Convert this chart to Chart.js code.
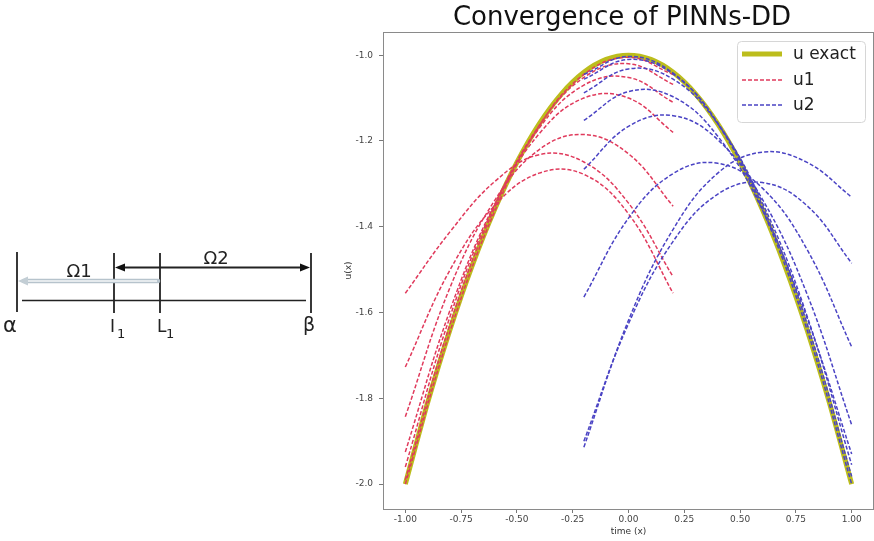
<!DOCTYPE html>
<html>
<head>
<meta charset="utf-8">
<script src="https://cdn.jsdelivr.net/npm/chart.js@4.4.0/dist/chart.umd.min.js"></script>
<style>
  html, body { margin: 0; padding: 0; background: #fff; }
  #wrap { position: relative; width: 874px; height: 541px; overflow: hidden; }
  #chart { position: absolute; left: 0; top: 0; }
  #diagram { position: absolute; left: 0; top: 0; }
  #title { position: absolute; top: 0; left: 422px; width: 400px; text-align: center;
           font: 26px "DejaVu Sans", sans-serif; line-height: 32px; color: #111; }
</style>
</head>
<body>
<div id="wrap">
  <canvas id="chart" width="874" height="541"></canvas>
  <div id="title">Convergence of PINNs-DD</div>
  <svg id="diagram" width="340" height="541" font-family="DejaVu Sans, sans-serif" fill="#222">
    <!-- domain sketch: alpha .. l1 .. L1 .. beta -->
    <g stroke="#222" stroke-width="1.8">
      <line x1="17" y1="252" x2="17" y2="312"/>
      <line x1="114" y1="253" x2="114" y2="313"/>
      <line x1="160" y1="253" x2="160" y2="313"/>
      <line x1="311" y1="253" x2="311" y2="313"/>
      <line x1="22" y1="300.5" x2="306" y2="300.5" stroke-width="1.5"/>
      <line x1="120" y1="267.5" x2="304" y2="267.5" stroke-width="2"/>
    </g>
    <polygon points="115,267.5 125,263.5 125,271.5" fill="#111"/>
    <polygon points="310,267.5 300,263.5 300,271.5" fill="#111"/>
    <line x1="24" y1="281" x2="158" y2="281" stroke="#b6c3cc" stroke-width="4.5" stroke-linecap="round"/>
    <line x1="24" y1="281" x2="157" y2="281" stroke="#f4f7f8" stroke-width="1.5"/>
    <polygon points="18,281 28,276.5 28,285.5" fill="#c3ced5"/>
    <text x="79" y="277" font-size="18" text-anchor="middle">Ω1</text>
    <text x="216" y="264" font-size="18" text-anchor="middle">Ω2</text>
    <text x="3" y="332" font-size="21">α</text>
    <text x="110" y="332" font-size="17">I</text>
    <text x="117" y="338" font-size="13">1</text>
    <text x="157" y="332" font-size="17">L</text>
    <text x="166" y="338" font-size="13">1</text>
    <text x="303" y="331" font-size="19">β</text>
  </svg>
</div>
<script>
// exact solution
const exactX = [-1, -0.9, -0.8, -0.7, -0.6, -0.5, -0.4, -0.3, -0.2, -0.1, 0, 0.1, 0.2, 0.3, 0.4, 0.5, 0.6, 0.7, 0.8, 0.9, 1];
const exactU = [-2, -1.81, -1.64, -1.49, -1.36, -1.25, -1.16, -1.09, -1.04, -1.01, -1.0, -1.01, -1.04, -1.09, -1.16, -1.25, -1.36, -1.49, -1.64, -1.81, -2];

// subdomain 1 iterations (u1)
const u1X = [-1, -0.8, -0.6, -0.4, -0.2, 0, 0.2];
const u1Runs = [
  [-1.555, -1.412, -1.295, -1.232, -1.249, -1.345, -1.517],
  [-1.727, -1.501, -1.351, -1.275, -1.278, -1.370, -1.555],
  [-1.843, -1.542, -1.339, -1.220, -1.185, -1.230, -1.352],
  [-1.925, -1.595, -1.348, -1.183, -1.100, -1.100, -1.180],
  [-1.960, -1.610, -1.350, -1.170, -1.070, -1.052, -1.110],
  [-1.990, -1.628, -1.356, -1.164, -1.052, -1.020, -1.068],
  [-2.000, -1.645, -1.365, -1.165, -1.045, -1.005, -1.045]
];

// subdomain 2 iterations (u2)
const u2X = [-0.2, 0, 0.2, 0.4, 0.6, 0.8, 1];
const u2Runs = [
  [-1.914, -1.618, -1.406, -1.275, -1.226, -1.250, -1.331],
  [-1.564, -1.380, -1.276, -1.252, -1.310, -1.453, -1.680],
  [-1.900, -1.626, -1.434, -1.324, -1.297, -1.351, -1.485],
  [-1.266, -1.166, -1.141, -1.197, -1.336, -1.557, -1.862],
  [-1.152, -1.085, -1.097, -1.189, -1.361, -1.613, -1.930],
  [-1.088, -1.032, -1.056, -1.160, -1.344, -1.608, -1.955],
  [-1.056, -1.010, -1.044, -1.158, -1.352, -1.626, -1.982],
  [-1.045, -1.003, -1.042, -1.160, -1.360, -1.640, -2.000]
];

const xTicks = [-1, -0.75, -0.5, -0.25, 0, 0.25, 0.5, 0.75, 1];
const xTickLabels = ['-1.00', '-0.75', '-0.50', '-0.25', '0.00', '0.25', '0.50', '0.75', '1.00'];
const yTicks = [-2, -1.8, -1.6, -1.4, -1.2, -1.0];
const yTickLabels = ['-2.0', '-1.8', '-1.6', '-1.4', '-1.2', '-1.0'];

const legendLabels = ['u exact', 'u1', 'u2'];

const exactColor = '#bcbd1c';
const u1Color = '#e03a5c';
const u2Color = '#4a43c4';

const pts = (xs, ys) => xs.map((x, i) => ({ x: x, y: ys[i] }));

const datasets = [];
datasets.push({
  label: legendLabels[0], data: pts(exactX, exactU),
  borderColor: exactColor, borderWidth: 5, tension: 0.3, order: 2
});
u1Runs.forEach(run => datasets.push({
  label: legendLabels[1], data: pts(u1X, run),
  borderColor: u1Color, borderWidth: 1.5, borderDash: [4, 2], tension: 0.4, order: 1
}));
u2Runs.forEach(run => datasets.push({
  label: legendLabels[2], data: pts(u2X, run),
  borderColor: u2Color, borderWidth: 1.5, borderDash: [4, 2], tension: 0.4, order: 0
}));

// box around the axes and legend inside the plot, like matplotlib
const framePlugin = {
  id: 'frame',
  afterDatasetsDraw(chart) {
    const { ctx, chartArea: a } = chart;
    ctx.save();
    ctx.strokeStyle = '#8a8a8a';
    ctx.lineWidth = 1;
    ctx.strokeRect(a.left + 0.5, a.top + 0.5, a.right - a.left - 1, a.bottom - a.top);

    // legend
    const lx = 737, ly = 41, lw = 128, lh = 81;
    ctx.beginPath();
    ctx.roundRect(lx + 0.5, ly + 0.5, lw, lh, 4);
    ctx.fillStyle = 'rgba(255,255,255,0.85)';
    ctx.fill();
    ctx.strokeStyle = '#d6d6d6';
    ctx.stroke();
    const styles = [
      { c: exactColor, w: 5, d: [] },
      { c: u1Color, w: 1.5, d: [4, 2] },
      { c: u2Color, w: 1.5, d: [4, 2] }
    ];
    const rows = [54, 80, 105];
    ctx.font = '17px "DejaVu Sans", sans-serif';
    ctx.textBaseline = 'middle';
    legendLabels.forEach((lab, i) => {
      ctx.beginPath();
      ctx.setLineDash(styles[i].d);
      ctx.strokeStyle = styles[i].c;
      ctx.lineWidth = styles[i].w;
      ctx.moveTo(742, rows[i]);
      ctx.lineTo(782, rows[i]);
      ctx.stroke();
      ctx.setLineDash([]);
      ctx.fillStyle = '#222';
      ctx.fillText(lab, 793, rows[i] + 1);
    });
    ctx.restore();
  }
};

new Chart(document.getElementById('chart'), {
  type: 'line',
  data: { datasets: datasets },
  options: {
    responsive: false,
    animation: false,
    devicePixelRatio: 1,
    layout: { padding: { left: 343, top: 32, right: 0, bottom: 0 } },
    elements: { point: { radius: 0 } },
    plugins: { legend: { display: false }, tooltip: { enabled: false } },
    scales: {
      x: {
        type: 'linear', min: -1.1, max: 1.1,
        afterFit: s => { s.height = 32; },
        afterBuildTicks: s => { s.ticks = xTicks.map(v => ({ value: v })); },
        border: { display: false },
        grid: { drawOnChartArea: false, drawTicks: true, tickLength: 4, color: '#777' },
        ticks: {
          padding: 1, color: '#444', maxRotation: 0, autoSkip: false,
          font: { family: 'DejaVu Sans', size: 9 },
          callback: (v, i) => xTickLabels[i]
        },
        title: { display: true, text: 'time (x)', color: '#333', padding: { top: 0, bottom: 4 },
                 font: { family: 'DejaVu Sans', size: 9 } }
      },
      y: {
        type: 'linear', min: -2.058, max: -0.946,
        afterFit: s => { s.width = 40; },
        afterBuildTicks: s => { s.ticks = yTicks.map(v => ({ value: v })); },
        border: { display: false },
        grid: { drawOnChartArea: false, drawTicks: true, tickLength: 4, color: '#777' },
        ticks: {
          padding: 6, color: '#444', autoSkip: false,
          font: { family: 'DejaVu Sans', size: 9 },
          callback: (v, i) => yTickLabels[i]
        },
        title: { display: true, text: 'u(x)', color: '#333', padding: { top: 0, bottom: 0 },
                 font: { family: 'DejaVu Sans', size: 9 } }
      }
    }
  },
  plugins: [framePlugin]
});
</script>
</body>
</html>
